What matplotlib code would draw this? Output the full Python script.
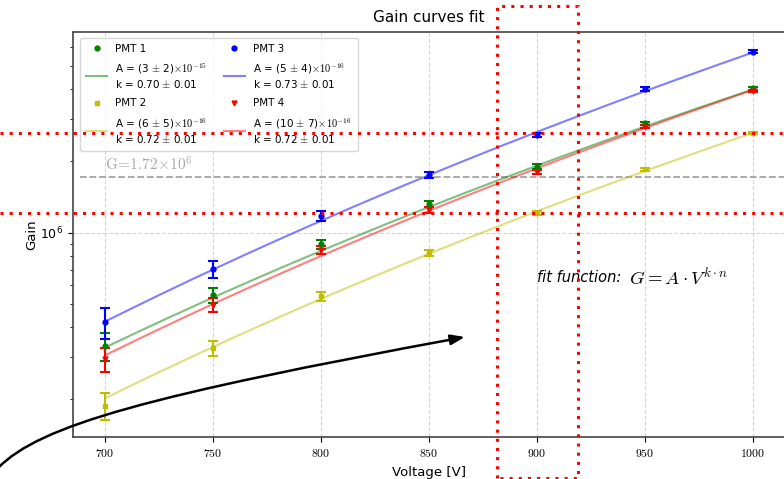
import numpy as np
import matplotlib
matplotlib.use("Agg")
import matplotlib.pyplot as plt
from matplotlib.lines import Line2D
from matplotlib.patches import FancyArrowPatch
from matplotlib.path import Path
from matplotlib.ticker import FuncFormatter
import matplotlib.transforms as mtransforms

plt.rcParams["mathtext.fontset"] = "cm"
plt.rcParams["font.family"] = ["DejaVu Sans"]

# Measured gains per PMT
voltage = np.array([700, 750, 800, 850, 900, 950, 1000])

gain_pmt1 = np.array([3.35e5, 5.47e5, 8.94e5, 1.316e6, 1.894e6, 2.88e6, 4.04e6])
gain_pmt2 = np.array([1.876e5, 3.27e5, 5.42e5, 8.19e5, 1.206e6, 1.847e6, 2.616e6])
gain_pmt3 = np.array([4.20e5, 7.02e5, 1.175e6, 1.748e6, 2.574e6, 4.016e6, 5.76e6])
gain_pmt4 = np.array([2.94e5, 4.97e5, 8.46e5, 1.245e6, 1.804e6, 2.79e6, 3.95e6])

err_pmt1 = np.array([4.5e4, 3.9e4, 4.0e4, 4.0e4, 4.2e4, 4.5e4, 5.0e4])
err_pmt2 = np.array([2.5e4, 2.5e4, 2.4e4, 2.4e4, 2.5e4, 2.6e4, 2.8e4])
err_pmt3 = np.array([6.3e4, 5.6e4, 5.7e4, 5.1e4, 5.5e4, 7.8e4, 8.4e4])
err_pmt4 = np.array([3.5e4, 3.5e4, 3.6e4, 3.6e4, 3.8e4, 4.0e4, 4.5e4])

# Fit parameters of G = A * V^(k*n), n = number of dynodes
n_dynodes = 10
fit_A = np.array([4.0e-15, 6.6e-16, 7.2e-16, 1.0e-15])
fit_k = np.array([0.70, 0.72, 0.73, 0.72])

fit_labels = [
    "A = (3 $\\pm$ 2)$\\times10^{-15}$\nk = 0.70 $\\pm$ 0.01",
    "A = (6 $\\pm$ 5)$\\times10^{-16}$\nk = 0.72 $\\pm$ 0.01",
    "A = (5 $\\pm$ 4)$\\times10^{-16}$\nk = 0.73 $\\pm$ 0.01",
    "A = (10 $\\pm$ 7)$\\times10^{-16}$\nk = 0.72 $\\pm$ 0.01",
]
pmt_names = ["PMT 1", "PMT 2", "PMT 3", "PMT 4"]
colors = ["g", "y", "b", "r"]
markers = ["o", "s", "o", "v"]
gains = [gain_pmt1, gain_pmt2, gain_pmt3, gain_pmt4]
errors = [err_pmt1, err_pmt2, err_pmt3, err_pmt4]

reference_gain = 1.72e6
highlight_voltage = (881.3, 918.9)

W, H = 784, 479
fig = plt.figure(figsize=(W / 100, H / 100), dpi=100)
ax = fig.add_axes([72.7 / W, 1 - 437.3 / H, (785.4 - 72.7) / W, (437.3 - 31.7) / H])

v_fit = np.linspace(voltage.min(), voltage.max(), 200)
point_handles, fit_handles = [], []
for g, e, c, m, name, A, k, lab in zip(gains, errors, colors, markers,
                                       pmt_names, fit_A, fit_k, fit_labels):
    ax.errorbar(voltage, g, yerr=e, fmt=m, color=c, ms=3.5,
                elinewidth=1.5, capsize=3.5, capthick=1.5, zorder=3)
    ax.plot(v_fit, A * v_fit ** (k * n_dynodes), color=c, alpha=0.5, lw=1.5, zorder=2)
    point_handles.append(Line2D([], [], ls="none", marker=m, color=c, ms=3.5, label=name))
    fit_handles.append(Line2D([], [], color=c, alpha=0.5, lw=1.5, label=lab))

ax.set_yscale("log")
ax.set_xlim(685, 1015)
ax.set_ylim(1.381e5, 6.99e6)
ax.set_xticks([700, 750, 800, 850, 900, 950, 1000])
ax.xaxis.set_major_formatter(FuncFormatter(lambda v, p: f"${v:.0f}$"))
ax.tick_params(axis="x", labelsize=8.5)
ax.tick_params(axis="y", labelsize=9)
ax.grid(True, which="major", ls="--", color="#bbbbbb", lw=0.8, alpha=0.6)
ax.set_axisbelow(True)
for s in ax.spines.values():
    s.set_color("#444444")
    s.set_linewidth(1.2)

# Reference gain level
ax.axhline(reference_gain, xmin=0.01, color="#999999", ls="--", lw=1.3, alpha=0.9, zorder=1)
ax.text(700, reference_gain * 1.03, r"$\mathrm{G}\!=\!1.72\!\times\!10^6$", color="#aaaaaa",
        fontsize=11, va="bottom", ha="left")

# Fit model annotation
t1 = ax.text(900, 6.45e5, "fit function: ", fontsize=10.5, style="italic",
             ha="left", va="center")
ax.annotate(r"$G = A \cdot V^{k\cdot n}$", xy=(1, 0.45), xycoords=t1,
            xytext=(2, 0), textcoords="offset points",
            fontsize=13.5, ha="left", va="center")

ax.set_title("Gain curves fit", fontsize=11, pad=7)
ax.set_xlabel("Voltage [V]", fontsize=9.5)
ax.set_ylabel("Gain", fontsize=9.5, labelpad=1)

handles = []
for ph, fh in zip(point_handles, fit_handles):
    handles += [ph, fh]
leg = ax.legend(handles=handles, ncol=2, loc="upper left", fontsize=7.5,
                frameon=True, borderpad=0.6, labelspacing=0.75, columnspacing=1.6,
                handlelength=2.0, handletextpad=0.8,
                bbox_to_anchor=(0.003, 0.998))
leg.get_frame().set_edgecolor("#cccccc")

# Highlight of the 900 V region and the PMT 2 gain levels around it
red_kw = dict(color="red", ls=(0, (1, 2)), lw=2.2, clip_on=False, zorder=6)
trans_y = mtransforms.blended_transform_factory(fig.transFigure, ax.transData)
for level in (gain_pmt2[4], gain_pmt2[6]):
    fig.add_artist(Line2D([0, 1], [level, level], transform=trans_y, **red_kw))
trans_x = mtransforms.blended_transform_factory(ax.transData, fig.transFigure)
x0, x1 = highlight_voltage
y_top, y_bot = 1 - 6 / H, 1 - 477.5 / H
fig.add_artist(Line2D([x0, x0, x1, x1, x0], [y_bot, y_top, y_top, y_bot, y_bot],
                      transform=trans_x, **red_kw))

# Curved pointer
px = lambda x, y: (x / W, 1 - y / H)
verts = [px(-2, 468), px(40, 425), px(150, 395), px(465, 337)]
path = Path(verts, [Path.MOVETO, Path.CURVE4, Path.CURVE4, Path.CURVE4])
arrow = FancyArrowPatch(path=path, arrowstyle="-|>,head_length=0.7,head_width=0.25",
                        mutation_scale=12, color="black", lw=1.8,
                        transform=fig.transFigure, clip_on=False, zorder=7)
fig.add_artist(arrow)

fig.savefig("out.png", dpi=100)
